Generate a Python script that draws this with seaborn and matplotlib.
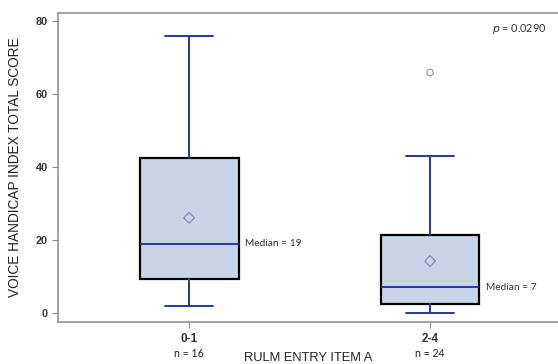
import pandas as pd
import seaborn as sns
from matplotlib import pyplot as plt
from matplotlib import transforms

# values
categories = ["0-1", "2-4"]
n_counts = [16, 24]
q1 = [9.3, 2.4]
medians = [19, 7]
q3 = [42.5, 21.5]
whisker_low = [2, 0]
whisker_high = [76, 43]
means = [26.1, 14.2]
outlier_group = ["2-4"]
outlier_values = [66]
p_value = "0.0290"

sns.set_style("ticks")
plt.rcParams['font.family'] = ['Liberation Sans', 'DejaVu Sans']

fig = plt.figure(figsize=(5.58, 3.64), dpi=100)
ax = fig.add_axes([0.104, 0.115, 0.896, 0.849])

positions = list(range(len(categories)))
stats = []
for i, cat in enumerate(categories):
    stats.append({
        'label': cat, 'q1': q1[i], 'med': medians[i], 'q3': q3[i],
        'whislo': whisker_low[i], 'whishi': whisker_high[i],
        'mean': means[i], 'fliers': [],
    })

blue = '#23399a'
ax.bxp(stats, positions=positions, widths=0.41, patch_artist=True,
       showfliers=False, showmeans=False,
       boxprops=dict(facecolor='#c9d5e6', edgecolor='black', linewidth=1.6),
       whiskerprops=dict(color=blue, linewidth=1.4),
       capprops=dict(color=blue, linewidth=1.4),
       medianprops=dict(color=blue, linewidth=1.4),
       capwidths=0.2)

# mean markers and outliers drawn on top of the boxes
mean_df = pd.DataFrame({'x': positions, 'y': means})
sns.scatterplot(data=mean_df, x='x', y='y', marker='D', s=30,
                facecolor='none', edgecolor='#7d8cc8', linewidth=0.9,
                zorder=4, ax=ax)

out_df = pd.DataFrame({'x': [categories.index(g) for g in outlier_group],
                       'y': outlier_values})
sns.scatterplot(data=out_df, x='x', y='y', marker='o', s=22,
                facecolor='none', edgecolor='#9a9a9a', linewidth=0.9,
                zorder=4, ax=ax)

for i, m in enumerate(medians):
    ax.annotate(f"Median = {m}", xy=(positions[i] + 0.205, m),
                xytext=(5, 0), textcoords='offset points',
                ha='left', va='center', fontsize=7.3, color='#333333',
                family=['Lato', 'DejaVu Sans'])

ax.text(0.978, 0.972, f"$p$ = {p_value}", transform=ax.transAxes,
        ha='right', va='top', fontsize=7.8, color='#333333',
        family=['Lato', 'DejaVu Sans'])

trans = transforms.blended_transform_factory(ax.transData, ax.transAxes)
for i, n in enumerate(n_counts):
    ax.annotate(f"n = {n}", xy=(positions[i], 0), xycoords=trans,
                xytext=(0, -22.5), textcoords='offset points',
                ha='center', va='center', fontsize=7.6, color='#222222',
                family=['Lato', 'DejaVu Sans'])

ax.set_xlim(-0.544, 1.531)
ax.set_ylim(-2.55, 82.3)
ax.set_xticks(positions)
ax.set_xticklabels(categories, fontsize=8.5, fontweight='bold', color='#333333')
ax.set_yticks([0, 20, 40, 60, 80])
ax.tick_params(axis='y', labelsize=7.8, colors='#888888', labelcolor='#333333',
               length=4, width=0.8)
ax.tick_params(axis='x', colors='#888888', labelcolor='#333333',
               length=4, width=0.8, pad=4)
for lab in ax.get_yticklabels():
    lab.set_fontweight('bold')

ax.set_xlabel("RULM ENTRY ITEM A", fontsize=9.3, color='#222222', labelpad=5)
ax.set_ylabel("VOICE HANDICAP INDEX TOTAL SCORE", fontsize=9.8, color='#222222',
              labelpad=10)

for side in ['left', 'bottom', 'top']:
    ax.spines[side].set_color('#8a8a8a')
    ax.spines[side].set_linewidth(1.1)
ax.spines['right'].set_visible(False)

fig.savefig('out.png', dpi=100)
